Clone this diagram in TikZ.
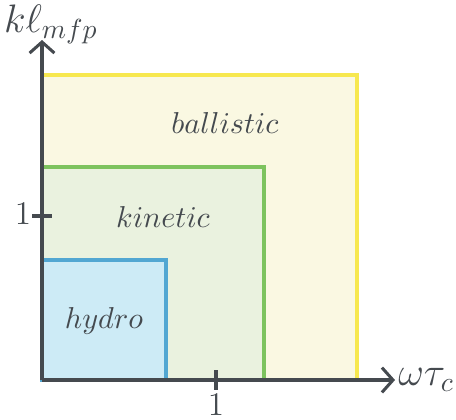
\documentclass[tikz,border=0pt]{standalone}
\usepackage{amsmath,amssymb}
\usepackage{xcolor}
\usepackage{tikz}
\usetikzlibrary{positioning, arrows.meta}

\definecolor{axisgray}{HTML}{454A4F}
\definecolor{ballfill}{HTML}{FAF8E2}
\definecolor{balldraw}{HTML}{F7E84F}
\definecolor{kinfill}{HTML}{EAF2DF}
\definecolor{kindraw}{HTML}{7DC35E}
\definecolor{hydfill}{HTML}{CDEBF6}
\definecolor{hyddraw}{HTML}{52A7D2}

\tikzset{
    regime/.style={line width=1.1pt},
    axis/.style={line width=1.1pt, draw=axisgray, -{Straight Barb[length=4pt, width=9pt, line width=1.1pt]}},
    tick/.style={line width=1.1pt, draw=axisgray},
    regimelabel/.style={font=\fontsize{11}{13}\selectfont, text=axisgray},
    ticklabel/.style={font=\large, text=axisgray},
    axislabel/.style={font=\Large, text=axisgray}
}

\begin{document}
\begin{tikzpicture}[x=0.3623pt, y=-0.3623pt]
    \useasboundingbox (0,0) rectangle (456,419);

    \coordinate (O) at (42,380);
    \coordinate (xend) at (395,380);
    \coordinate (yend) at (42,40);

    % regimes
    \draw[regime, fill=ballfill, draw=balldraw] (O) rectangle (357,75);
    \draw[regime, fill=kinfill, draw=kindraw] (O) rectangle (264,167);
    \draw[regime, fill=hydfill, draw=hyddraw] (O) rectangle (166,260);

    \node[regimelabel] (ball) at (225,123) {$ballistic$};
    \node[regimelabel] (kin) at (163,217) {$kinetic$};
    \node[regimelabel] (hyd) at (104,321) {$hydro$};

    % axes
    \draw[axis] (O) -- (xend);
    \draw[axis] (O) -- (yend);
    \node[axislabel, anchor=west, inner sep=1pt] (xlab) at (xend) {$\omega\tau_c$};
    \node[axislabel] (ylab) at (51,24) {$k\ell_{mfp}$};

    % ticks
    \coordinate (xt) at (216,380);
    \coordinate (yt) at (42,216);
    \draw[tick] ([yshift=-3.6pt]xt) -- ([yshift=3.6pt]xt);
    \draw[tick] ([xshift=-3.6pt]yt) -- ([xshift=3.6pt]yt);
    \node[ticklabel] (xone) at (216,405) {$1$};
    \node[ticklabel] (yone) at (23,214) {$1$};
\end{tikzpicture}
\end{document}
